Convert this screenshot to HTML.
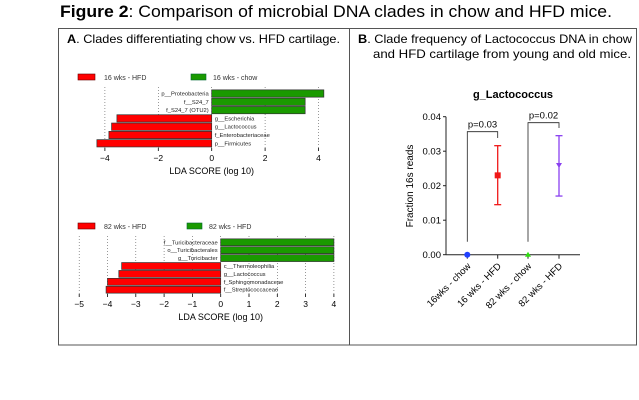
<!DOCTYPE html>
<html><head><meta charset="utf-8"><style>
body{margin:0;background:#fff;width:639px;height:400px;overflow:hidden;font-family:"Liberation Sans",sans-serif}
svg{position:absolute;left:0;top:0}
</style></head><body>
<svg width="639" height="400">
<text x="60" y="17" font-size="17" textLength="552" lengthAdjust="spacingAndGlyphs"><tspan font-weight="bold">Figure 2</tspan>: Comparison of microbial DNA clades in chow and HFD mice.</text>
<rect x="58.5" y="28.5" width="578" height="316.5" fill="none" stroke="#555"/>
<line x1="349.5" y1="28" x2="349.5" y2="345" stroke="#555"/>
<text x="67" y="43" font-size="12" textLength="273" lengthAdjust="spacingAndGlyphs"><tspan font-weight="bold">A</tspan>. Clades differentiating chow vs. HFD cartilage.</text>
<text x="358" y="43" font-size="12" textLength="274" lengthAdjust="spacingAndGlyphs"><tspan font-weight="bold">B</tspan>. Clade frequency of Lactococcus DNA in chow</text>
<text x="373" y="58" font-size="12" textLength="258" lengthAdjust="spacingAndGlyphs">and HFD cartilage from young and old mice.</text>
<g id="lda1"></g>
<g id="lda2"></g>
<g id="dot"></g>
</svg>
<script>
const lda1Labels=["p__Proteobacteria","f__S24_7","f_S24_7 (OTU2)","g__Escherichia","g__Lactococcus","f_Enterobacteriaceae","p__Firmicutes"];
const lda1Values=[4.2,3.5,3.5,-3.55,-3.75,-3.85,-4.3];
const lda1Ticks=[-4,-2,0,2,4];
const lda2Labels=["f__Turicibacteraceae","o__Turicibacterales","g__Turicibacter","c__Thermoleophilia","g__Lactococcus","f_Sphingomonadaceae","f__Streptococcaceae"];
const lda2Values=[4,4,4,-3.5,-3.6,-4.0,-4.05];
const lda2Ticks=[-5,-4,-3,-2,-1,0,1,2,3,4];
const dotCats=["16wks - chow","16 wks - HFD","82 wks - chow","82 wks - HFD"];
const dotMeans=[0,0.023,0,0.026];
const dotLow=[0,0.0145,0,0.017];
const dotHigh=[0,0.0316,0,0.0345];
const dotTicks=[0,0.01,0.02,0.03,0.04];
const NS="http://www.w3.org/2000/svg";
function mk(p,t,a,txt){const e=document.createElementNS(NS,t);for(const k in a)e.setAttribute(k,a[k]);if(txt!==undefined)e.textContent=txt;p.appendChild(e);return e;}
function lda(g,labels,vals,ticks,x0,unit,y0,step,tickY,titleY,legTexts,legY,legX2,gridTop,gridBot){
  const sx=v=>x0+v*unit;
  let e=mk(g,'rect',{x:78,y:legY-3,width:17,height:6,fill:'#f00',stroke:'#600','stroke-width':0.6});
  
  e=mk(g,'text',{x:104,y:legY+3,'font-size':7,fill:'#333'},legTexts[0]);
  
  e=mk(g,'rect',{x:legX2,y:legY-3,width:15,height:6,fill:'#1a9a00',stroke:'#063','stroke-width':0.6});
  
  e=mk(g,'text',{x:legX2+22,y:legY+3,'font-size':7,fill:'#333'},legTexts[1]);
  
  ticks.forEach(t=>{
    e=mk(g,'line',{x1:sx(t),x2:sx(t),y1:gridTop,y2:gridBot,stroke:'#555','stroke-width':0.6,'stroke-dasharray':'1,2'});
    
    e=mk(g,'line',{x1:sx(t),x2:sx(t),y1:gridBot,y2:gridBot+3,stroke:'#000','stroke-width':0.8});
    
    e=mk(g,'text',{x:sx(t),y:tickY,'font-size':8.5,'text-anchor':'middle'},t<0?'\u2212'+(-t):String(t));
    
  });
  vals.forEach((v,i)=>{
    const cy=y0+i*step;const pos=v>=0;
    e=mk(g,'rect',{x:Math.min(sx(0),sx(v)),y:cy-step/2+0.5,width:Math.abs(sx(v)-sx(0)),height:step-1,fill:pos?'#1a9a00':'#f00',stroke:'#333','stroke-width':0.7});
    
    e=mk(g,'text',{x:pos?sx(0)-3:sx(0)+3,y:cy+2,'font-size':5.8,'text-anchor':pos?'end':'start',fill:'#222'},labels[i]);
    
  });
  e=mk(g,'text',{x:x0,y:titleY,'font-size':9,'text-anchor':'middle'},'LDA SCORE (log 10)');
  
}
lda(document.getElementById('lda1'),lda1Labels,lda1Values,lda1Ticks,211.7,26.7,93.5,8.3,161,174,['16 wks - HFD','16 wks - chow'],77,191,87,148);
lda(document.getElementById('lda2'),lda2Labels,lda2Values,lda2Ticks,220.7,28.3,242.3,7.9,307,320,['82 wks - HFD','82 wks - HFD'],226,187,236,294);
const g=document.getElementById('dot');
const ax=446,ay0=254.7,ay1=116.7;
const sy=v=>ay0+(ay1-ay0)*v/0.04;
const cx=[467.3,497.7,528,559];
let e=mk(g,'text',{x:513,y:98,'font-size':11,'font-weight':'bold','text-anchor':'middle'},'g_Lactococcus');

e=mk(g,'line',{x1:ax,x2:ax,y1:ay1,y2:ay0,stroke:'#222','stroke-width':1});

e=mk(g,'line',{x1:ax,x2:580,y1:ay0,y2:ay0,stroke:'#222','stroke-width':1});

dotTicks.forEach(t=>{
  e=mk(g,'line',{x1:ax-3,x2:ax,y1:sy(t),y2:sy(t),stroke:'#222'});
  
  e=mk(g,'text',{x:ax-5,y:sy(t)+3.5,'font-size':9.5,'text-anchor':'end'},t.toFixed(2));
  
});
e=mk(g,'text',{x:0,y:0,'font-size':10,'text-anchor':'middle',transform:'translate(413,186) rotate(-90)'},'Fraction 16s reads');

const cols=['#2040ff','#f01818','#30e010','#8a40f0'];
dotCats.forEach((c,i)=>{
  e=mk(g,'line',{x1:cx[i],x2:cx[i],y1:ay0,y2:ay0+4,stroke:'#222'});
  
  e=mk(g,'text',{x:0,y:0,'font-size':9.5,'text-anchor':'end',transform:`translate(${cx[i]+4},${ay0+12}) rotate(-45)`},c);
  
  if(dotHigh[i]>dotLow[i]){
    e=mk(g,'line',{x1:cx[i],x2:cx[i],y1:sy(dotLow[i]),y2:sy(dotHigh[i]),stroke:cols[i],'stroke-width':1.3});
    
    [dotLow[i],dotHigh[i]].forEach(v=>{e=mk(g,'line',{x1:cx[i]-3.5,x2:cx[i]+3.5,y1:sy(v),y2:sy(v),stroke:cols[i],'stroke-width':1.3});
      });
  }
  const y=sy(dotMeans[i]);
  if(i==0)e=mk(g,'circle',{cx:cx[i],cy:y,r:3,fill:cols[i]});
  else if(i==1)e=mk(g,'rect',{x:cx[i]-3,y:y-3,width:6,height:6,fill:cols[i]});
  else if(i==2)e=mk(g,'polygon',{points:`${cx[i]},${y-3} ${cx[i]-3},${y+2} ${cx[i]+3},${y+2}`,fill:cols[i]});
  else e=mk(g,'polygon',{points:`${cx[i]},${y+3} ${cx[i]-3},${y-2} ${cx[i]+3},${y-2}`,fill:cols[i]});
  
});
function bracket(x1,x2,yt,yl,yr,lbl){
  e=mk(g,'polyline',{points:`${x1},${yl} ${x1},${yt} ${x2},${yt} ${x2},${yr}`,fill:'none',stroke:'#222','stroke-width':0.8});
  
  e=mk(g,'text',{x:(x1+x2)/2,y:yt-4,'font-size':9.5,'text-anchor':'middle'},lbl);
  
}
bracket(cx[0],cx[1],131.7,241.7,138,'p=0.03');
bracket(cx[2],cx[3],122.7,241.7,128,'p=0.02');
</script>
</body></html>
